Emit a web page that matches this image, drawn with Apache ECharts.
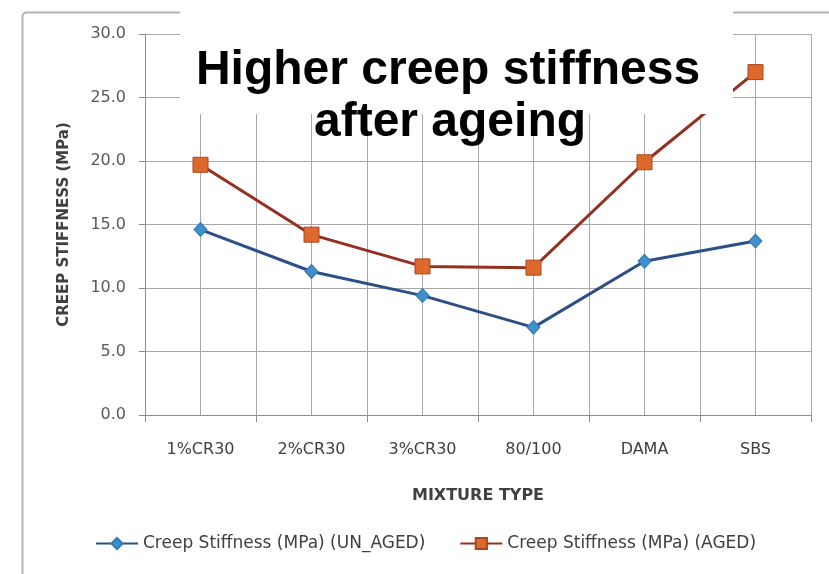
<!DOCTYPE html>
<html>
<head>
<meta charset="utf-8">
<script src="https://cdn.jsdelivr.net/npm/echarts@6/dist/echarts.min.js"></script>
<style>
  html, body { margin: 0; padding: 0; background: #ffffff; }
  #chart { width: 829px; height: 574px; }
</style>
</head>
<body>
<div id="chart"></div>
<script>
// Mixture types on the category axis
const mixtureTypes = ['1%CR30', '2%CR30', '3%CR30', '80/100', 'DAMA', 'SBS'];
// Creep stiffness, MPa
const unAgedStiffness = [14.6, 11.3, 9.4, 6.9, 12.1, 13.7];
const agedStiffness = [19.7, 14.2, 11.7, 11.6, 19.9, 27.0];
// Series names shown in the legend
const seriesNames = ['Creep Stiffness (MPa) (UN_AGED)', 'Creep Stiffness (MPa) (AGED)'];
// Overlay heading lines
const headingLines = ['Higher creep stiffness', 'after ageing'];

const FONT = 'DejaVu Sans';
const GRID_COLOR = '#a8a8a8';
const AXIS_COLOR = '#8c8c8c';
const HEADING_FONT = 'bold 48px "Liberation Sans", Arial, sans-serif';

const chart = echarts.init(document.getElementById('chart'), null, { renderer: 'canvas' });

chart.setOption({
  animation: false,
  backgroundColor: '#ffffff',
  textStyle: { fontFamily: FONT },
  grid: { left: 145, right: 18, top: 34, bottom: 159, containLabel: false },
  xAxis: [
    {
      type: 'category',
      data: mixtureTypes,
      boundaryGap: true,
      name: 'MIXTURE TYPE',
      nameLocation: 'middle',
      nameGap: 73,
      nameTextStyle: { fontFamily: FONT, fontSize: 16, fontWeight: 'bold', color: '#404040' },
      axisLine: { show: true, lineStyle: { color: AXIS_COLOR, width: 1 } },
      axisTick: { show: true, length: 7, lineStyle: { color: AXIS_COLOR } },
      axisLabel: { fontFamily: FONT, fontSize: 16, color: '#404040', margin: 27 },
      splitLine: { show: false }
    },
    {
      // half-category grid: lines at each category centre and boundary
      type: 'value',
      min: 0,
      max: 12,
      interval: 1,
      position: 'bottom',
      axisLine: { show: false },
      axisTick: { show: false },
      axisLabel: { show: false },
      splitLine: { show: true, lineStyle: { color: GRID_COLOR, width: 1 } }
    }
  ],
  yAxis: {
    type: 'value',
    min: 0,
    max: 30,
    interval: 5,
    name: 'CREEP STIFFNESS (MPa)',
    nameLocation: 'middle',
    nameGap: 73,
    nameRotate: 90,
    nameTextStyle: { fontFamily: FONT, fontSize: 15, fontWeight: 'bold', color: '#404040' },
    axisLine: { show: true, lineStyle: { color: AXIS_COLOR, width: 1 } },
    axisTick: { show: true, length: 6, lineStyle: { color: AXIS_COLOR } },
    axisLabel: {
      fontFamily: FONT, fontSize: 16, color: '#595959', margin: 19,
      formatter: v => v.toFixed(1)
    },
    splitLine: { show: true, lineStyle: { color: GRID_COLOR, width: 1 } }
  },
  legend: {
    left: 90,
    top: 530,
    itemWidth: 42,
    itemHeight: 14,
    itemGap: 34,
    textStyle: { fontFamily: FONT, fontSize: 17, color: '#404040' },
    data: seriesNames
  },
  series: [
    {
      name: seriesNames[0],
      type: 'line',
      xAxisIndex: 0,
      data: unAgedStiffness,
      symbol: 'diamond',
      symbolSize: [13, 14],
      lineStyle: { color: '#2c4f86', width: 3 },
      itemStyle: { color: '#3f8fcb', borderColor: '#3479b0', borderWidth: 1 },
      z: 3
    },
    {
      name: seriesNames[1],
      type: 'line',
      xAxisIndex: 0,
      data: agedStiffness,
      symbol: 'rect',
      symbolSize: 15,
      lineStyle: { color: '#93301f', width: 3 },
      itemStyle: { color: '#dd6a2c', borderColor: '#a9461f', borderWidth: 1 },
      z: 4
    }
  ],
  graphic: [
    {
      // chart frame
      type: 'rect',
      left: 20,
      top: 10,
      z: -10,
      shape: { width: 840, height: 600, r: 4 },
      style: { fill: 'none', stroke: '#b3b3b3', lineWidth: 2 }
    },
    {
      // white panel behind the heading
      type: 'rect',
      left: 180,
      top: 0,
      z: 100,
      shape: { width: 553, height: 114 },
      style: { fill: '#ffffff' }
    },
    {
      type: 'text',
      x: 448,
      y: 47,
      z: 101,
      style: {
        text: headingLines[0],
        font: HEADING_FONT,
        fill: '#000000',
        align: 'center',
        verticalAlign: 'alphabetic'
      }
    },
    {
      type: 'text',
      x: 450,
      y: 99,
      z: 101,
      style: {
        text: headingLines[1],
        font: HEADING_FONT,
        fill: '#000000',
        align: 'center',
        verticalAlign: 'alphabetic'
      }
    }
  ]
});
</script>
</body>
</html>
